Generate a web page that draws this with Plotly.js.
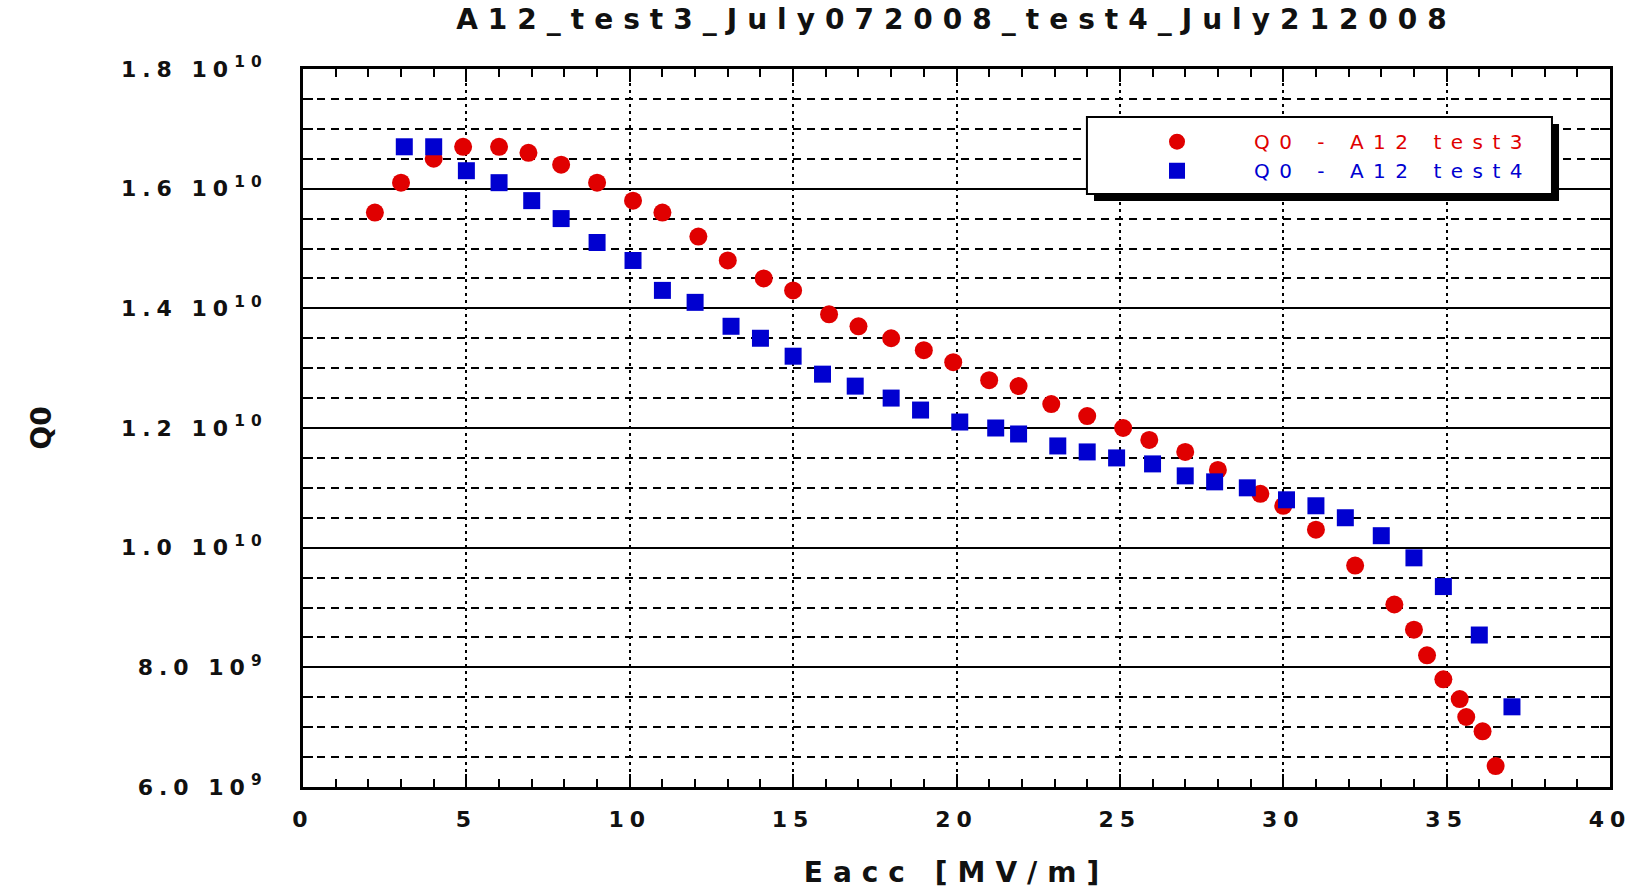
<!DOCTYPE html>
<html>
<head>
<meta charset="utf-8">
<script src="https://cdn.plot.ly/plotly-3.0.1.min.js"></script>
<style>
  html, body { margin: 0; padding: 0; background: #ffffff; }
  #chart { width: 1639px; height: 891px; }
  .gtitle { letter-spacing: 10px; }
  .xtick text { letter-spacing: 6px; }
  .ytick text { letter-spacing: 6px; }
  .xtitle { letter-spacing: 10px; }
  .legendtext { letter-spacing: 9.5px; }
</style>
</head>
<body>
<div id="chart"></div>
<script>
// ---- data ----
const chartTitle = 'A12_test3_July072008_test4_July212008';
const xTitle = 'Eacc [MV/m]';
const yTitle = 'Q0';
const seriesNames = ['Q0 - A12 test3', 'Q0 - A12 test4'];

const eaccTest3 = [2.2, 3.0, 4.0, 4.9, 6.0, 6.9, 7.9, 9.0, 10.1, 11.0, 12.1, 13.0, 14.1, 15.0, 16.1, 17.0, 18.0, 19.0, 19.9, 21.0, 21.9, 22.9, 24.0, 25.1, 25.9, 27.0, 28.0, 29.3, 30.0, 31.0, 32.2, 33.4, 34.0, 34.4, 34.9, 35.4, 35.6, 36.1, 36.5];
const q0Test3 = [15.6e9, 16.1e9, 16.5e9, 16.7e9, 16.7e9, 16.6e9, 16.4e9, 16.1e9, 15.8e9, 15.6e9, 15.2e9, 14.8e9, 14.5e9, 14.3e9, 13.9e9, 13.7e9, 13.5e9, 13.3e9, 13.1e9, 12.8e9, 12.7e9, 12.4e9, 12.2e9, 12.0e9, 11.8e9, 11.6e9, 11.3e9, 10.9e9, 10.7e9, 10.3e9, 9.7e9, 9.05e9, 8.63e9, 8.2e9, 7.8e9, 7.47e9, 7.17e9, 6.93e9, 6.35e9];

const eaccTest4 = [3.1, 4.0, 5.0, 6.0, 7.0, 7.9, 9.0, 10.1, 11.0, 12.0, 13.1, 14.0, 15.0, 15.9, 16.9, 18.0, 18.9, 20.1, 21.2, 21.9, 23.1, 24.0, 24.9, 26.0, 27.0, 27.9, 28.9, 30.1, 31.0, 31.9, 33.0, 34.0, 34.9, 36.0, 37.0];
const q0Test4 = [16.7e9, 16.7e9, 16.3e9, 16.1e9, 15.8e9, 15.5e9, 15.1e9, 14.8e9, 14.3e9, 14.1e9, 13.7e9, 13.5e9, 13.2e9, 12.9e9, 12.7e9, 12.5e9, 12.3e9, 12.1e9, 12.0e9, 11.9e9, 11.7e9, 11.6e9, 11.5e9, 11.4e9, 11.2e9, 11.1e9, 11.0e9, 10.8e9, 10.7e9, 10.5e9, 10.2e9, 9.83e9, 9.35e9, 8.54e9, 7.34e9];

const xTickVals = [0, 5, 10, 15, 20, 25, 30, 35, 40];
const yTickVals = [6e9, 8e9, 10e9, 12e9, 14e9, 16e9, 18e9];
const yTickText = ['6.0 10<sup>9</sup>', '8.0 10<sup>9</sup>', '1.0 10<sup>10</sup>', '1.2 10<sup>10</sup>', '1.4 10<sup>10</sup>', '1.6 10<sup>10</sup>', '1.8 10<sup>10</sup>'];
const xRange = [0, 40];
const yRange = [6e9, 18e9];

// ---- styling ----
const RED = '#e00000';
const BLUE = '#0000d0';
const FONT = 'DejaVu Sans, Liberation Sans, Arial, sans-serif';

const traces = [
  {
    x: eaccTest3, y: q0Test3, type: 'scatter', mode: 'markers',
    name: '<span style="color:' + RED + '">' + seriesNames[0] + '</span>',
    marker: { symbol: 'circle', size: 18, color: RED, line: { width: 0 } }
  },
  {
    x: eaccTest4, y: q0Test4, type: 'scatter', mode: 'markers',
    name: '<span style="color:' + BLUE + '">' + seriesNames[1] + '</span>',
    marker: { symbol: 'square', size: 17, color: BLUE, line: { width: 0 } }
  }
];

const layout = {
  width: 1639, height: 891,
  paper_bgcolor: '#ffffff', plot_bgcolor: '#ffffff',
  margin: { l: 303, r: 29, t: 69, b: 104 },
  showlegend: true,
  title: {
    text: chartTitle,
    font: { family: FONT, size: 28, color: '#111111', weight: 'bold' },
    x: 0.5, xref: 'paper', xanchor: 'center',
    y: 0.978, yref: 'container', yanchor: 'middle'
  },
  xaxis: {
    range: xRange, tickmode: 'array', tickvals: xTickVals,
    showline: true, linecolor: '#000000', linewidth: 3, mirror: 'ticks',
    ticks: 'inside', ticklen: 13, tickwidth: 2, tickcolor: '#000000',
    showgrid: true, gridcolor: '#000000', gridwidth: 2, griddash: '3px,4px',
    zeroline: false,
    ticklabelstandoff: 11,
    tickfont: { family: FONT, size: 22, color: '#111111', weight: 'bold' },
    minor: { dtick: 1, ticks: 'inside', ticklen: 8, tickwidth: 2, tickcolor: '#000000', showgrid: false },
    title: { text: xTitle, font: { family: FONT, size: 28, color: '#111111', weight: 'bold' }, standoff: 31 }
  },
  yaxis: {
    range: yRange, tickmode: 'array', tickvals: yTickVals, ticktext: yTickText,
    showline: true, linecolor: '#000000', linewidth: 3, mirror: 'ticks',
    ticks: 'inside', ticklen: 10, tickwidth: 2, tickcolor: '#000000',
    showgrid: true, gridcolor: '#000000', gridwidth: 2,
    zeroline: false,
    ticklabelstandoff: 28,
    tickfont: { family: FONT, size: 22, color: '#111111', weight: 'bold' },
    minor: { dtick: 5e8, tick0: 6e9, ticks: 'inside', ticklen: 10, tickwidth: 2, tickcolor: '#000000',
             showgrid: true, gridcolor: '#000000', gridwidth: 2, griddash: '8px,6px' },
    title: { text: yTitle, font: { family: FONT, size: 28, color: '#111111', weight: 'bold' }, standoff: 62 }
  },
  legend: {
    x: 0.6098, xanchor: 'left', xref: 'paper',
    y: 0.926, yanchor: 'top', yref: 'paper',
    bgcolor: 'rgba(0,0,0,0)', borderwidth: 0,
    itemwidth: 144,
    font: { family: FONT, size: 20, color: '#000000' },
    tracegroupgap: 0
  },
  shapes: [
    { type: 'rect', xref: 'paper', yref: 'paper', layer: 'above',
      x0: 0.6052, x1: 0.9610, y0: 0.8162, y1: 0.9234,
      fillcolor: '#000000', line: { width: 0 } },
    { type: 'rect', xref: 'paper', yref: 'paper', layer: 'above',
      x0: 0.5998, x1: 0.9556, y0: 0.8259, y1: 0.9331,
      fillcolor: '#ffffff', line: { color: '#000000', width: 2 } }
  ]
};

Plotly.newPlot('chart', traces, layout, { displayModeBar: false, staticPlot: true });
</script>
</body>
</html>
